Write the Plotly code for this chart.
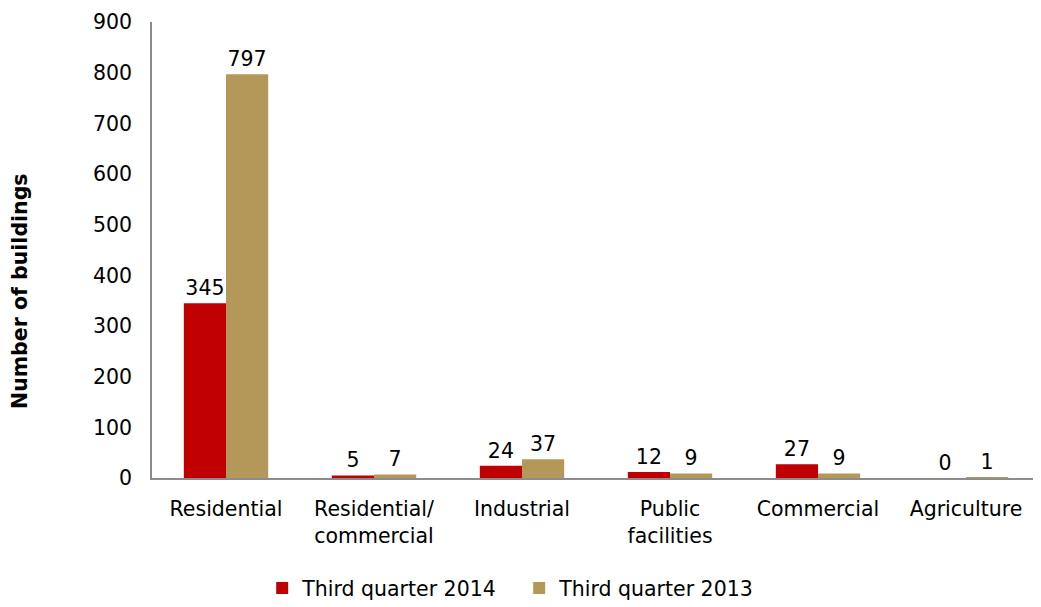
import plotly.graph_objects as go

categories = ["Residential", "Residential/<br>commercial", "Industrial", "Public<br>facilities", "Commercial", "Agriculture"]
q3_2014 = [345, 5, 24, 12, 27, 0]
q3_2013 = [797, 7, 37, 9, 9, 1]
series_names = ["Third quarter 2014", "Third quarter 2013"]
colors = ["#C00000", "#B3985A"]
y_ticks = [0, 100, 200, 300, 400, 500, 600, 700, 800, 900]

FONT = "DejaVu Sans"
FS = 20.5
fig = go.Figure()
for name, vals, col in zip(series_names, [q3_2014, q3_2013], colors):
    fig.add_trace(go.Bar(
        x=categories, y=vals, name=name, marker=dict(color=col, line=dict(width=0)),
        text=[str(v) for v in vals], textposition="outside", cliponaxis=False,
        textfont=dict(family=FONT, size=FS, color="#000000"),
    ))

fig.add_annotation(
    text="<b>Number of buildings</b>", xref="paper", yref="paper",
    x=(20 - 152) / 888, y=(478 - 291) / 456, xanchor="center", yanchor="middle",
    textangle=-90, showarrow=False, font=dict(family=FONT, size=FS, color="#000000"),
)

fig.update_layout(
    width=1033, height=599,
    margin=dict(l=144, r=1, t=14, b=129, autoexpand=False),
    paper_bgcolor="white", plot_bgcolor="white",
    barmode="group", bargap=0.43, bargroupgap=0,
    font=dict(family=FONT, size=FS, color="#000000"),
    showlegend=True,
    legend=dict(orientation="h", x=0.4135, xanchor="center", y=-0.198, yanchor="top",
                font=dict(family=FONT, size=FS), itemwidth=30, traceorder="normal",
                entrywidth=212, entrywidthmode="pixels"),
    xaxis=dict(showline=True, linecolor="#8C8C8C", linewidth=1.5, ticks="",
               tickfont=dict(family=FONT, size=FS), showgrid=False, automargin=False,
               ticklabelstandoff=12),
    yaxis=dict(range=[0, 900], tickvals=y_ticks, showline=True, linecolor="#8C8C8C",
               linewidth=1.5, ticks="", showgrid=False, zeroline=False, automargin=False,
               tickfont=dict(family=FONT, size=FS), ticklabelstandoff=14),
)
fig.write_html("out.html")
